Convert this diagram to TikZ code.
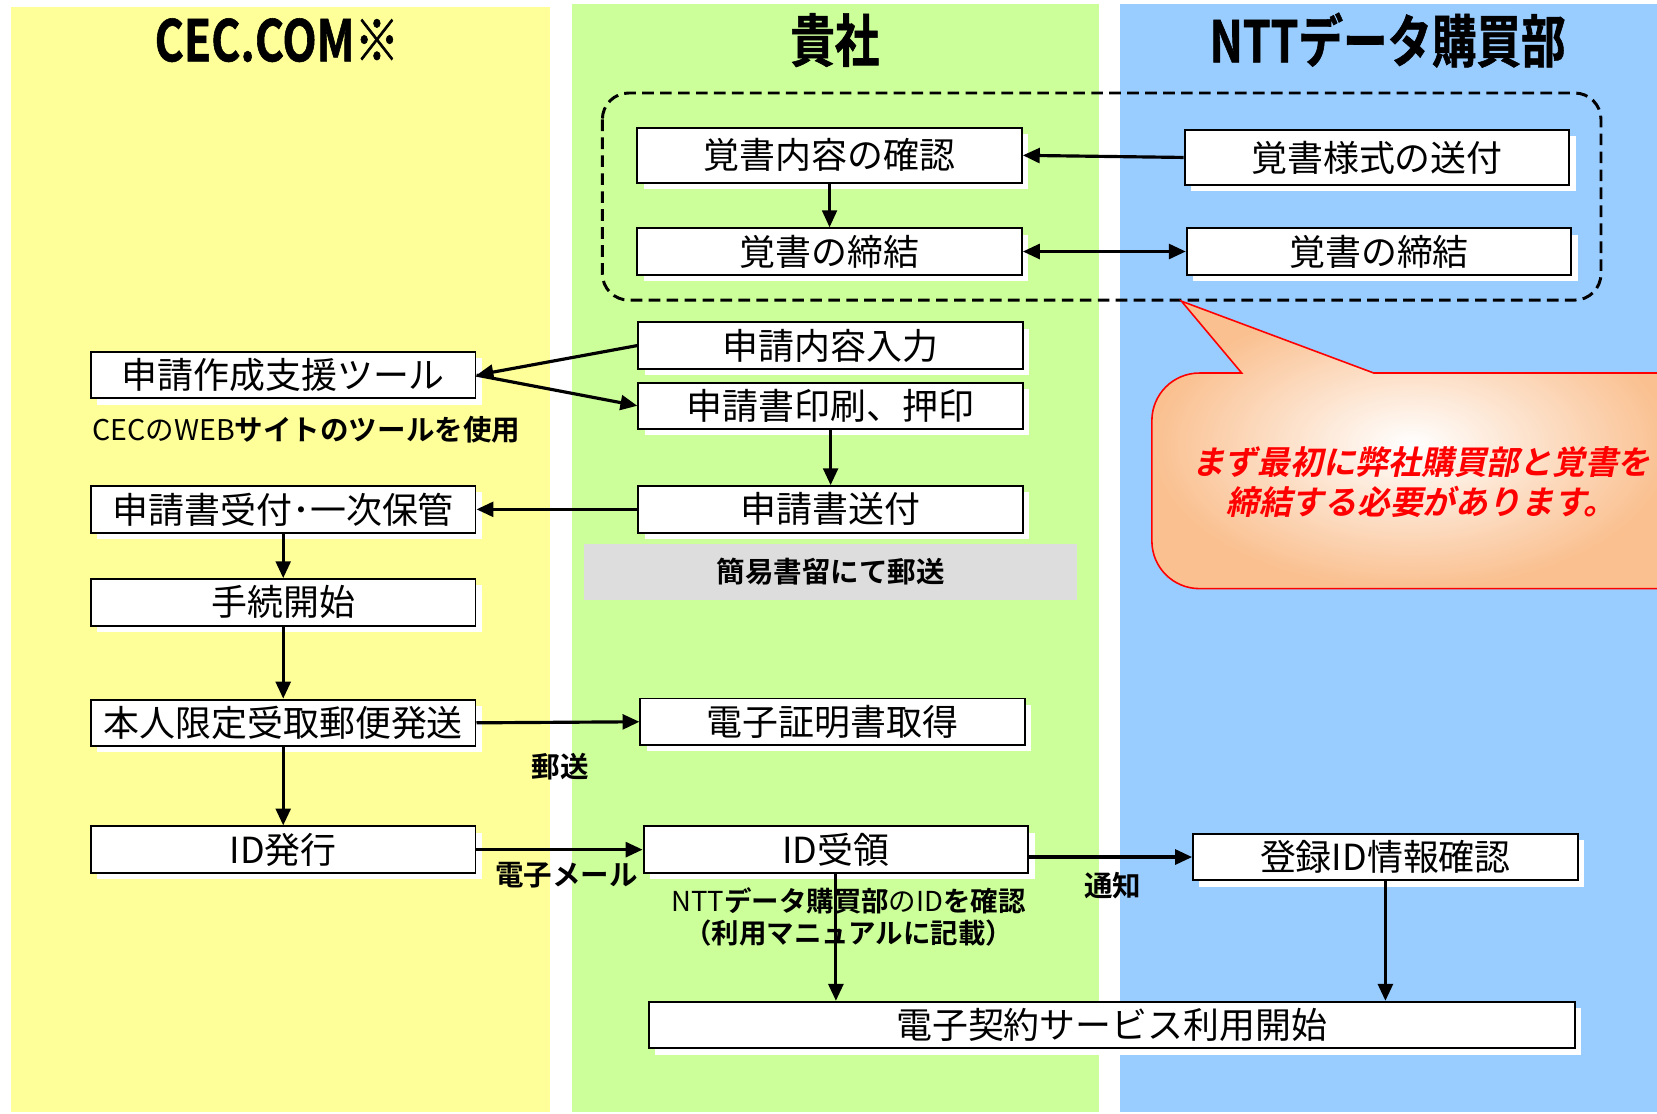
\documentclass[tikz,border=0pt]{standalone}
\usepackage{fontspec}
\setmainfont{Noto Sans CJK JP}[BoldFont={Noto Sans CJK JP Bold}]
\newfontfamily\headfont{Noto Sans CJK JP Bold}[FakeStretch=0.78, FakeBold=1]
\newfontfamily\calloutfont{Noto Sans CJK JP Bold}[FakeSlant=0.2]
\usetikzlibrary{arrows.meta, shadows}

\definecolor{laneyellow}{HTML}{FFFF99}
\definecolor{lanegreen}{HTML}{CCFF99}
\definecolor{laneblue}{HTML}{99CCFF}
\definecolor{postgray}{HTML}{DDDDDD}
\definecolor{calloutorange}{HTML}{FAC090}

\tikzset{
  flowbox/.style={draw, line width=1.8pt, fill=white, minimum width=364pt,
    minimum height=44pt, inner sep=0pt, font=\fontsize{34}{36}\selectfont,
    drop shadow={fill=white, opacity=1, shadow xshift=6pt, shadow yshift=-6pt}},
  lanehead/.style={font=\headfont\fontsize{54}{58}\selectfont},
  note/.style={font=\bfseries\fontsize{27}{30}\selectfont},
  flow/.style={line width=3pt, -{Triangle[length=16pt, width=14pt]}},
  flowboth/.style={line width=3pt, {Triangle[length=16pt, width=14pt]}-{Triangle[length=16pt, width=14pt]}},
}

\begin{document}
\begin{tikzpicture}[x=1pt, y=-1pt]
  \useasboundingbox (0,0) rectangle (1568,1054);
  \clip (0,0) rectangle (1568,1054);

  % lanes
  \fill[laneyellow] (10,7) rectangle (520,1052);
  \fill[lanegreen] (541,4) rectangle (1040,1052);
  \fill[laneblue] (1060,4) rectangle (1568,1052);
  \node[lanehead] (cechead) at (262,38) {CEC.COM※};
  \node[lanehead] (ourhead) at (790,38) {貴社};
  \node[lanehead] (ntthead) at (1313,38) {NTTデータ購買部};

  % memorandum
  \draw[line width=2.8pt, dash pattern=on 11pt off 6pt, rounded corners=25pt]
    (570,88) rectangle (1515,284);
  \node[flowbox, minimum height=52pt] (memocheck) at (785,147) {覚書内容の確認};
  \node[flowbox] (memosignA) at (785,238) {覚書の締結};
  \node[flowbox, minimum height=52pt] (memosend) at (1303,149) {覚書様式の送付};
  \node[flowbox] (memosignB) at (1305,238) {覚書の締結};

  % callout
  \shadedraw[draw=red, line width=1.5pt, inner color=white, outer color=calloutorange]
    (1175,353) -- (1118,285) -- (1300,353) -- (1580,353) -- (1580,557)
    -- (1135,557) arc[start angle=90, end angle=180, radius=45]
    -- (1090,398) arc[start angle=180, end angle=270, radius=45] -- cycle;
  \node[font=\calloutfont\fontsize{31}{38}\selectfont, text=red, align=center]
    (calloutnote) at (1345,456) {まず最初に弊社購買部と覚書を\\締結する必要があります。};

  % application
  \node[flowbox] (input) at (786,327) {申請内容入力};
  \node[flowbox] (print) at (786,384) {申請書印刷、押印};
  \node[flowbox] (tool) at (268,355) {申請作成支援ツール};
  \node[note, anchor=west] (toolnote) at (84,407) {{\mdseries CECのWEB}サイトのツールを使用};
  \node[flowbox] (receive) at (268,482) {申請書受付･一次保管};
  \node[flowbox] (send) at (786,482) {申請書送付};
  \node[note, fill=postgray, minimum width=466pt, minimum height=53pt] (registered) at (786,541) {簡易書留にて郵送};
  \node[flowbox] (start) at (268,570) {手続開始};

  % certificate and ID
  \node[flowbox] (mail) at (268,684) {本人限定受取郵便発送};
  \node[flowbox] (cert) at (788,683) {電子証明書取得};
  \node[note] (postnote) at (530,725) {郵送};
  \node[flowbox] (issue) at (268,804) {ID発行};
  \node[flowbox] (idrecv) at (791,804) {ID受領};
  \node[note] (emailnote) at (536,828) {電子メール};
  \node[flowbox] (regid) at (1311,811) {登録ID情報確認};
  \node[note] (noticenote) at (1053,838) {通知};
  \node[note, font=\bfseries\fontsize{26}{30}\selectfont, align=center] (idnote) at (803,868)
    {{\mdseries NTT}データ購買部{\mdseries のID}を確認\\（利用マニュアルに記載）};
  \node[flowbox, minimum width=876pt] (begin) at (1052,970) {電子契約サービス利用開始};

  % connectors
  \draw[flow] (memosend.west) -- (memocheck.east);
  \draw[flow, line width=2.2pt] (memocheck.south) -- (memosignA.north);
  \draw[flowboth] (memosignA.east) -- (memosignB.west);
  \draw[flow] (input.west) -- (tool.east);
  \draw[flow] (tool.east) -- (print.west);
  \draw[flow] (print.south) -- (send.north);
  \draw[flow] (send.west) -- (receive.east);
  \draw[flow] (receive.south) -- (start.north);
  \draw[flow] (start.south) -- (mail.north);
  \draw[flow] (mail.east) -- (cert.west);
  \draw[flow] (mail.south) -- (issue.north);
  \draw[flow] (issue.east) -- (idrecv.west);
  \draw[flow] (idrecv.east |- regid.west) -- (regid.west);
  \draw[flow] (idrecv.south) -- (idrecv.south |- begin.north);
  \draw[flow] (regid.south) -- (regid.south |- begin.north);
\end{tikzpicture}
\end{document}
